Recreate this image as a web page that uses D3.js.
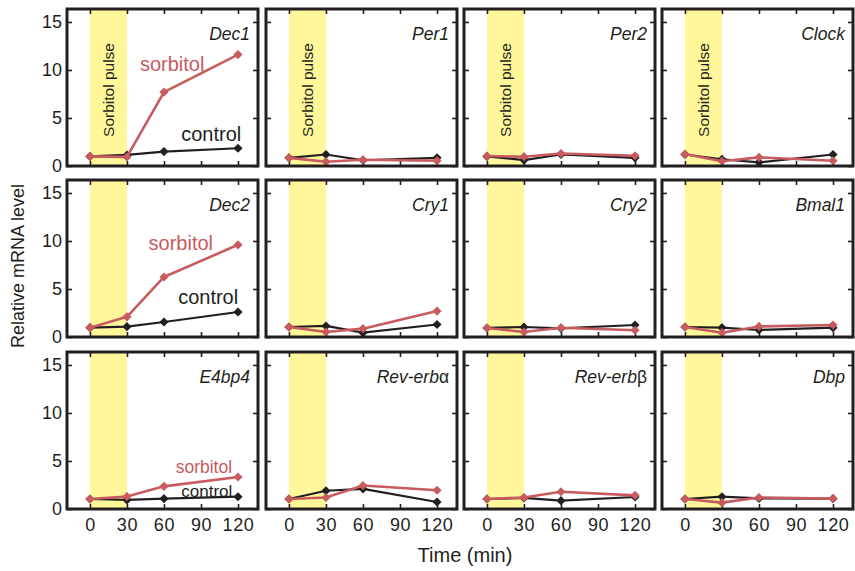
<!DOCTYPE html>
<html>
<head>
<meta charset="utf-8">
<script src="https://cdn.jsdelivr.net/npm/d3@7"></script>
<style>
  body { margin: 0; background: #fff; }
  text { font-family: "Liberation Sans", Arial, Helvetica, sans-serif; fill: #231f20; }
</style>
</head>
<body>
<div id="chart"></div>
<script>
// Data
const genes = ["Dec1", "Per1", "Per2", "Clock", "Dec2", "Cry1", "Cry2", "Bmal1", "E4bp4", "Rev-erbα", "Rev-erbβ", "Dbp"];
const times = [0, 30, 60, 120];
const control = [
  [1.0, 1.15, 1.5, 1.85],
  [0.85, 1.2, 0.6, 0.85],
  [1.0, 0.62, 1.2, 0.85],
  [1.2, 0.7, 0.38, 1.2],
  [0.97, 1.08, 1.56, 2.6],
  [1.04, 1.15, 0.45, 1.3],
  [0.94, 1.04, 0.9, 1.25],
  [1.04, 0.97, 0.73, 0.97],
  [1.04, 0.94, 1.08, 1.28],
  [1.04, 1.9, 2.1, 0.73],
  [1.04, 1.15, 0.87, 1.25],
  [1.04, 1.28, 1.1, 1.08]
];
const sorbitol = [
  [1.0, 0.95, 7.7, 11.6],
  [0.85, 0.45, 0.65, 0.55],
  [1.04, 0.97, 1.3, 1.07],
  [1.25, 0.5, 0.9, 0.55],
  [0.97, 2.1, 6.25, 9.6],
  [1.04, 0.52, 0.87, 2.7],
  [0.94, 0.52, 0.97, 0.7],
  [1.04, 0.45, 1.1, 1.25],
  [1.04, 1.3, 2.36, 3.33],
  [1.04, 1.2, 2.45, 1.95],
  [1.04, 1.2, 1.8, 1.42],
  [1.04, 0.66, 1.2, 1.08]
];
const xTicks = [0, 30, 60, 90, 120];
const yTicks = [0, 5, 10, 15];
const pulse = [0, 30];

// inline series labels: panel index, text, series, x (min), y (level), font size
const seriesLabels = [
  { p: 0, text: "sorbitol", s: "sorbitol", x: 40.5, y: 9.9, size: 20 },
  { p: 0, text: "control", s: "control", x: 74, y: 2.6, size: 20 },
  { p: 4, text: "sorbitol", s: "sorbitol", x: 47.5, y: 9.05, size: 20 },
  { p: 4, text: "control", s: "control", x: 71.5, y: 3.4, size: 20 },
  { p: 8, text: "sorbitol", s: "sorbitol", x: 69.5, y: 3.7, size: 17.5 },
  { p: 8, text: "control", s: "control", x: 74, y: 1.28, size: 17 }
];

const colors = { control: "#231f20", sorbitol: "#c75b5e" };

const W = 855, H = 571;
const colX = [67, 266, 464, 662];
const rowY = [9, 180, 352];
const pw = 191, ph = 157;

const svg = d3.select("#chart").append("svg")
    .attr("width", W)
    .attr("height", H);

const x = d3.scaleLinear().domain([-18.6, 136.2]).range([0, pw]);
const y = d3.scaleLinear().domain([0, 16.35]).range([ph, 0]);

const line = d3.line()
    .x((d, i) => x(times[i]))
    .y(d => y(d));

const marker = d3.symbol(d3.symbolSquare, 42);

genes.forEach((gene, i) => {
  const c = i % 4, r = Math.floor(i / 4);
  const g = svg.append("g")
      .attr("transform", `translate(${colX[c]},${rowY[r]})`);

  // yellow pulse band
  g.append("rect")
      .attr("x", x(pulse[0]))
      .attr("y", 0)
      .attr("width", x(pulse[1]) - x(pulse[0]))
      .attr("height", ph)
      .attr("fill", "#fff799");

  if (r === 0) {
    g.append("text")
        .attr("transform", `translate(${(x(pulse[0]) + x(pulse[1])) / 2 + 5.5},${81}) rotate(-90)`)
        .attr("text-anchor", "middle")
        .style("font-size", "15.5px")
        .text("Sorbitol pulse");
  }

  // axes with inward ticks on all sides
  const left = g.append("g").call(d3.axisLeft(y).tickValues(yTicks).tickSizeInner(-5).tickSizeOuter(0).tickPadding(5));
  const right = g.append("g").attr("transform", `translate(${pw},0)`)
      .call(d3.axisRight(y).tickValues(yTicks).tickSizeInner(-5).tickSizeOuter(0).tickFormat(""));
  const top = g.append("g")
      .call(d3.axisTop(x).tickValues(xTicks).tickSizeInner(-5).tickSizeOuter(0).tickFormat(""));
  const bottom = g.append("g").attr("transform", `translate(0,${ph})`)
      .call(d3.axisBottom(x).tickValues(xTicks).tickSizeInner(-5).tickSizeOuter(0).tickPadding(9));
  if (c !== 0) left.selectAll("text").remove();
  if (r !== 2) bottom.selectAll("text").remove();
  [left, right, top, bottom].forEach(a => {
    a.select(".domain").remove();
    a.selectAll("line").attr("stroke", "#231f20").attr("stroke-width", 1.6);
    a.selectAll("text").style("font-size", "18px").attr("fill", "#231f20")
        .style("font-family", '"Liberation Sans", Arial, sans-serif');
  });
  bottom.selectAll("text").attr("letter-spacing", "0.6px");

  // series
  [["control", control[i]], ["sorbitol", sorbitol[i]]].forEach(([s, vals]) => {
    g.append("path")
        .datum(vals)
        .attr("d", line)
        .attr("fill", "none")
        .attr("stroke", colors[s])
        .attr("stroke-width", s === "sorbitol" ? 2.6 : 2.2)
        .attr("stroke-linejoin", "round");
    g.selectAll(null)
        .data(vals)
        .enter()
        .append("path")
        .attr("d", marker)
        .attr("transform", (d, k) => `translate(${x(times[k])},${y(d)}) rotate(45)`)
        .attr("fill", colors[s]);
  });

  // frame
  g.append("rect")
      .attr("width", pw)
      .attr("height", ph)
      .attr("fill", "none")
      .attr("stroke", "#231f20")
      .attr("stroke-width", 3);

  // gene name
  const greek = /[α-ω]$/.test(gene);
  const t = g.append("text")
      .attr("x", pw - 8)
      .attr("y", 31)
      .attr("text-anchor", "end")
      .style("font-size", "17.5px")
      .style("font-style", "italic");
  t.append("tspan").text(greek ? gene.slice(0, -1) : gene);
  if (greek) t.append("tspan").style("font-style", "normal").text(gene.slice(-1));

  seriesLabels.filter(l => l.p === i).forEach(l => {
    g.append("text")
        .attr("x", x(l.x))
        .attr("y", y(l.y))
        .style("font-size", l.size + "px")
        .style("fill", colors[l.s])
        .text(l.text);
  });
});

// axis titles
svg.append("text")
    .attr("transform", `translate(24,266) rotate(-90)`)
    .attr("text-anchor", "middle")
    .style("font-size", "18px")
    .text("Relative mRNA level");

svg.append("text")
    .attr("x", 465)
    .attr("y", 562)
    .attr("text-anchor", "middle")
    .style("font-size", "20px")
    .text("Time (min)");
</script>
</body>
</html>
